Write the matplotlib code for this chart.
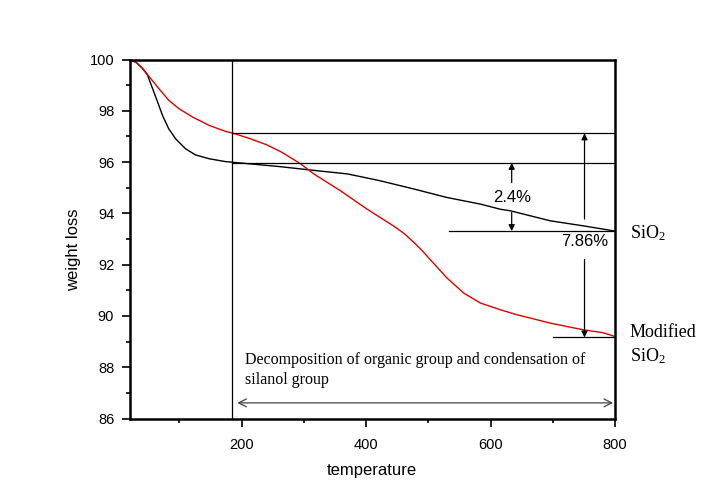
import matplotlib
matplotlib.use("Agg")
import matplotlib.pyplot as plt
from matplotlib.ticker import MultipleLocator

plt.rcParams['font.family'] = ['Liberation Sans', 'DejaVu Sans']
plt.rcParams['mathtext.fontset'] = 'custom'
plt.rcParams['mathtext.rm'] = 'Liberation Serif'
plt.rcParams['mathtext.it'] = 'Liberation Serif:italic'

# SiO2 (black) curve
sio2_t = [21, 31, 41, 49, 57, 65, 73, 83, 94, 110, 126, 148, 174, 214, 263,
          311, 370, 423, 477, 530, 584, 616, 632, 696, 750, 800]
sio2_w = [100.0, 99.88, 99.65, 99.39, 98.87, 98.35, 97.82, 97.3, 96.91, 96.52,
          96.28, 96.13, 96.02, 95.93, 95.82, 95.69, 95.54, 95.27, 94.95, 94.62,
          94.36, 94.16, 94.1, 93.71, 93.51, 93.31]

# Modified SiO2 (red) curve
mod_t = [21, 31, 41, 54, 67, 83, 99, 121, 148, 174, 190, 214, 240, 265, 295,
         316, 359, 402, 444, 462, 477, 490, 503, 530, 557, 584, 616, 642, 670,
         696, 749, 780, 800]
mod_w = [100.0, 99.88, 99.65, 99.26, 98.87, 98.41, 98.09, 97.76, 97.43, 97.2,
         97.1, 96.91, 96.68, 96.38, 95.93, 95.54, 94.88, 94.16, 93.51, 93.2,
         92.86, 92.55, 92.2, 91.48, 90.89, 90.5, 90.24, 90.05, 89.88, 89.72,
         89.46, 89.35, 89.2]

x_ticks = [200, 400, 600, 800]
y_ticks = [86, 88, 90, 92, 94, 96, 98, 100]

fig = plt.figure(figsize=(7.28, 5.04), dpi=100)
ax = fig.add_axes([0.1779, 0.1696, 0.6669, 0.7123])

ax.plot(sio2_t, sio2_w, color='black', lw=1.0)
ax.plot(mod_t, mod_w, color='#e00000', lw=1.0)

ax.set_xlim(20, 800)
ax.set_ylim(86, 100)
ax.set_xticks(x_ticks)
ax.set_yticks(y_ticks)
ax.xaxis.set_minor_locator(MultipleLocator(100))
ax.yaxis.set_minor_locator(MultipleLocator(1))
ax.tick_params(which='major', direction='out', length=6, width=1.2,
               labelsize=10.5, pad=5)
ax.tick_params(axis='x', which='major', pad=8)
ax.tick_params(which='minor', direction='out', length=3, width=1.2)
for sp in ax.spines.values():
    sp.set_linewidth(1.8)

ax.set_xlabel('temperature', fontsize=12, labelpad=8)
ax.set_ylabel('weight loss', fontsize=12)
ax.yaxis.set_label_coords(-0.10, 0.47)

# reference lines
ax.axvline(185, color='black', lw=0.9)
ax.plot([185, 800], [97.12, 97.12], color='black', lw=0.9)
ax.plot([185, 800], [95.97, 95.97], color='black', lw=0.9)
ax.plot([534, 800], [93.31, 93.31], color='black', lw=0.9)
ax.plot([700, 800], [89.16, 89.16], color='black', lw=0.9)

ap = dict(arrowstyle='-|>', color='black', lw=0.9, mutation_scale=9,
          shrinkA=0, shrinkB=0)
# 2.4% arrows
ax.annotate('', xy=(634, 95.97), xytext=(634, 95.2), arrowprops=ap)
ax.annotate('', xy=(634, 93.31), xytext=(634, 94.03), arrowprops=ap)
ax.text(634, 94.62, '2.4%', fontsize=12, ha='center', va='center')
# 7.86% arrows
ax.annotate('', xy=(751, 97.12), xytext=(751, 93.78), arrowprops=ap)
ax.annotate('', xy=(751, 89.16), xytext=(751, 92.2), arrowprops=ap)
ax.text(752, 92.92, '7.86%', fontsize=12, ha='center', va='center')

# double arrow range
ax.annotate('', xy=(797, 86.61), xytext=(193, 86.61),
            arrowprops=dict(arrowstyle='<->', color='#444444', lw=0.9,
                            mutation_scale=14, shrinkA=0, shrinkB=0))
ax.text(206, 88.13, 'Decomposition of organic group and condensation of',
        family='Liberation Serif', fontsize=11.5, ha='left', va='baseline')
ax.text(206, 87.33, 'silanol group',
        family='Liberation Serif', fontsize=11.5, ha='left', va='baseline')

# curve labels
ax.text(824, 93.04, 'SiO$_2$', family='Liberation Serif', fontsize=13,
        ha='left', va='baseline', clip_on=False)
ax.text(824, 89.16, 'Modified', family='Liberation Serif', fontsize=13,
        ha='left', va='baseline', clip_on=False)
ax.text(824, 88.22, 'SiO$_2$', family='Liberation Serif', fontsize=13,
        ha='left', va='baseline', clip_on=False)

fig.savefig('out.png', dpi=100)
